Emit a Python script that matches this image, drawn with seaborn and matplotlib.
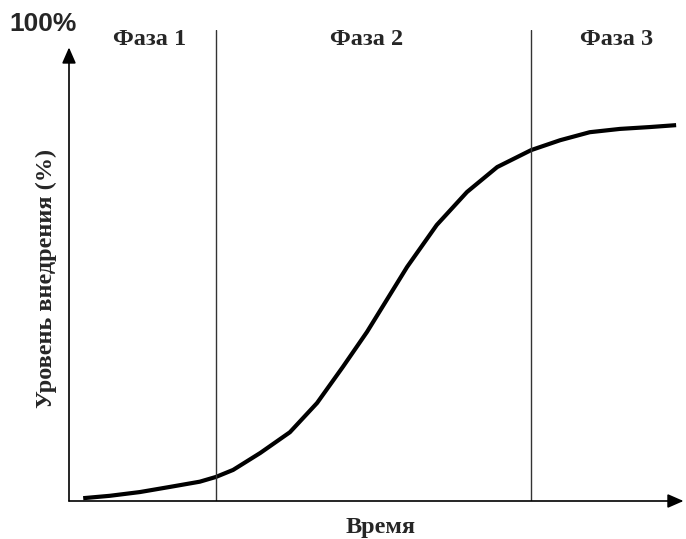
import matplotlib
matplotlib.use("Agg")
import matplotlib.pyplot as plt
import seaborn as sns
import pandas as pd

sns.set_theme(style="white")

# S-curve (time 0-100, adoption 0-100 %)
time = [2.3, 6.6, 11.5, 16.4, 21.2, 23.8, 26.6, 31.0, 35.8, 40.2, 44.4, 48.3,
        53.2, 54.8, 59.6, 64.5, 69.4, 74.9, 79.6, 84.4, 89.3, 94.2, 98.4]
adoption = [0.6, 1.1, 1.9, 3.0, 4.1, 5.1, 6.6, 10.2, 14.6, 20.8, 28.5, 35.9,
            46.3, 49.7, 58.6, 65.6, 70.9, 74.5, 76.6, 78.3, 79.0, 79.4, 79.8]

phase_bounds = [23.8, 74.9]
phase_labels = ["Фаза 1", "Фаза 2", "Фаза 3"]
phase_centers = [13.0, 48.3, 88.7]

df = pd.DataFrame({"time": time, "adoption": adoption})

fig = plt.figure(figsize=(6.86, 5.39), dpi=100)
ax = fig.add_axes([69 / 686, 38 / 539, 617 / 686, 471 / 539])

sns.lineplot(data=df, x="time", y="adoption", ax=ax, color="black",
             linewidth=3.0, solid_capstyle="butt")

for b in phase_bounds:
    ax.plot([b, b], [0, 100], color="#333333", linewidth=1.0)

serif = dict(family="Liberation Serif", fontweight="bold")
for lab, c in zip(phase_labels, phase_centers):
    ax.text(c, 97.9, lab, ha="center", va="center", fontsize=17.5, **serif)

# axes with arrows
ax.annotate("", xy=(0, 96.3), xytext=(0, 0), annotation_clip=False,
            arrowprops=dict(arrowstyle="-|>,head_length=0.8,head_width=0.35",
                            color="black", linewidth=1.2, shrinkA=0, shrinkB=0))
ax.annotate("", xy=(99.6, 0), xytext=(0, 0), annotation_clip=False,
            arrowprops=dict(arrowstyle="-|>,head_length=0.8,head_width=0.35",
                            color="black", linewidth=1.2, shrinkA=0, shrinkB=0))

ax.set_xlim(0, 100)
ax.set_ylim(0, 100)
ax.set_xticks([])
ax.set_yticks([])
ax.set_xlabel("")
ax.set_ylabel("")
for s in ax.spines.values():
    s.set_visible(False)

fig.text(43 / 686, 1 - 24 / 539, "100%", ha="center", va="center",
         fontsize=19, family="Liberation Sans", fontweight="bold")
fig.text(381 / 686, 1 - 527 / 539, "Время", ha="center", va="center",
         fontsize=17.5, **serif)
fig.text(46 / 686, 1 - 278 / 539, "Уровень внедрения (%)", ha="center",
         va="center", rotation=90, fontsize=17.5, **serif)

fig.savefig("out.png", dpi=100)
